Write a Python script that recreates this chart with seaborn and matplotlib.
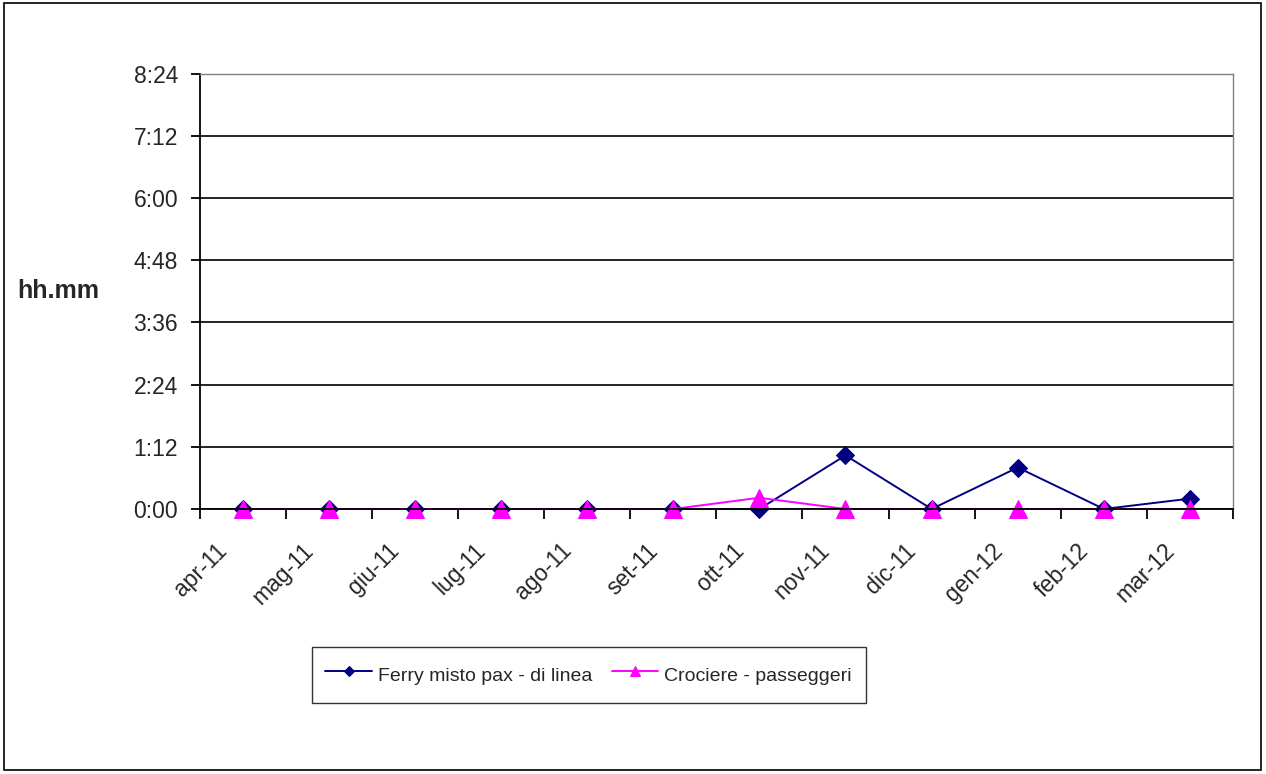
import numpy as np
import pandas as pd
import matplotlib
matplotlib.use('Agg')
import matplotlib.pyplot as plt
import matplotlib.transforms as mtransforms
import seaborn as sns
from matplotlib.ticker import FuncFormatter, FixedLocator

# --- dati (minuti) ---
mesi = ['apr-11', 'mag-11', 'giu-11', 'lug-11', 'ago-11', 'set-11',
        'ott-11', 'nov-11', 'dic-11', 'gen-12', 'feb-12', 'mar-12']
ferry_min = [0, 0, 0, 0, 0, 0, 0, 62, 0, 48, 0, 12]
crociere_min = [0, 0, 0, 0, 0, 0, 13, 0, 0, 0, 0, 0]
y_ticks = [0, 72, 144, 216, 288, 360, 432, 504]

sns.set_theme(style="white")
plt.rcParams['font.family'] = ['Liberation Sans', 'DejaVu Sans']

df = pd.DataFrame({'pos': np.arange(len(mesi)), 'ferry': ferry_min, 'crociere': crociere_min})

fig = plt.figure(figsize=(12.66, 7.74), dpi=100)
ax = fig.add_axes([0.1576, 0.3424, 0.8164, 0.5626])

sns.lineplot(data=df, x='pos', y='ferry', ax=ax, color='#000080', lw=1.4,
             marker='D', markersize=9, markeredgecolor='#000080',
             label='Ferry misto pax - di linea', clip_on=False)
sns.lineplot(data=df, x='pos', y='crociere', ax=ax, color='#FF00FF', lw=1.4,
             marker='^', markersize=13, markeredgecolor='#FF00FF',
             label='Crociere - passeggeri', clip_on=False)

ax.set_xlim(-0.5, len(mesi) - 0.5)
ax.set_ylim(0, 504)
ax.yaxis.set_major_locator(FixedLocator(y_ticks))
ax.yaxis.set_major_formatter(FuncFormatter(lambda v, p: f"{int(v)//60}:{int(v)%60:02d}"))
ax.grid(axis='y', color='black', lw=1.2)
ax.set_axisbelow(True)

ax.set_xticks(np.arange(len(mesi)))
ax.set_xticklabels(mesi, rotation=45, ha='right', va='top', rotation_mode='anchor', fontsize=16.5)
ax.set_xticks(np.arange(-0.5, len(mesi)), minor=True)
ax.tick_params(axis='x', which='major', length=0, pad=0)
ax.tick_params(axis='x', which='minor', length=7, width=1.3, color='black', direction='out', bottom=True)
ax.tick_params(axis='y', length=6.8, width=1.3, color='black', direction='out', left=True, labelsize=16.5, pad=8.6)

# sposta le etichette ruotate come in Excel
shift = mtransforms.ScaledTranslation(-0.27, -0.30, fig.dpi_scale_trans)
for lab in ax.get_xticklabels():
    lab.set_transform(lab.get_transform() + shift)

for s in ['left', 'bottom']:
    ax.spines[s].set_color('black')
    ax.spines[s].set_linewidth(1.3)
for s in ['top', 'right']:
    ax.spines[s].set_color('#808080')
    ax.spines[s].set_linewidth(1.0)

ax.set_xlabel('')
ax.set_ylabel('')
fig.text(0.0134, 0.624, 'hh.mm', fontsize=18, fontweight='bold', ha='left', va='center')

ax.get_legend().remove()
handles, labels = ax.get_legend_handles_labels()
leg = fig.legend(handles, labels, loc='center', bbox_to_anchor=(0.465, 0.128), ncol=2,
                 fontsize=14, frameon=True, fancybox=False, edgecolor='black',
                 borderpad=0.7, handlelength=2.4, handletextpad=0.3, handleheight=1.9,
                 columnspacing=1.0, markerscale=0.6, borderaxespad=0)
leg.get_frame().set_linewidth(1.0)

fig.patches.append(plt.Rectangle((0.003, 0.005), 0.993, 0.991, transform=fig.transFigure,
                                 fill=False, edgecolor='black', lw=1.2))

fig.savefig('out.png', dpi=100, facecolor='white')
